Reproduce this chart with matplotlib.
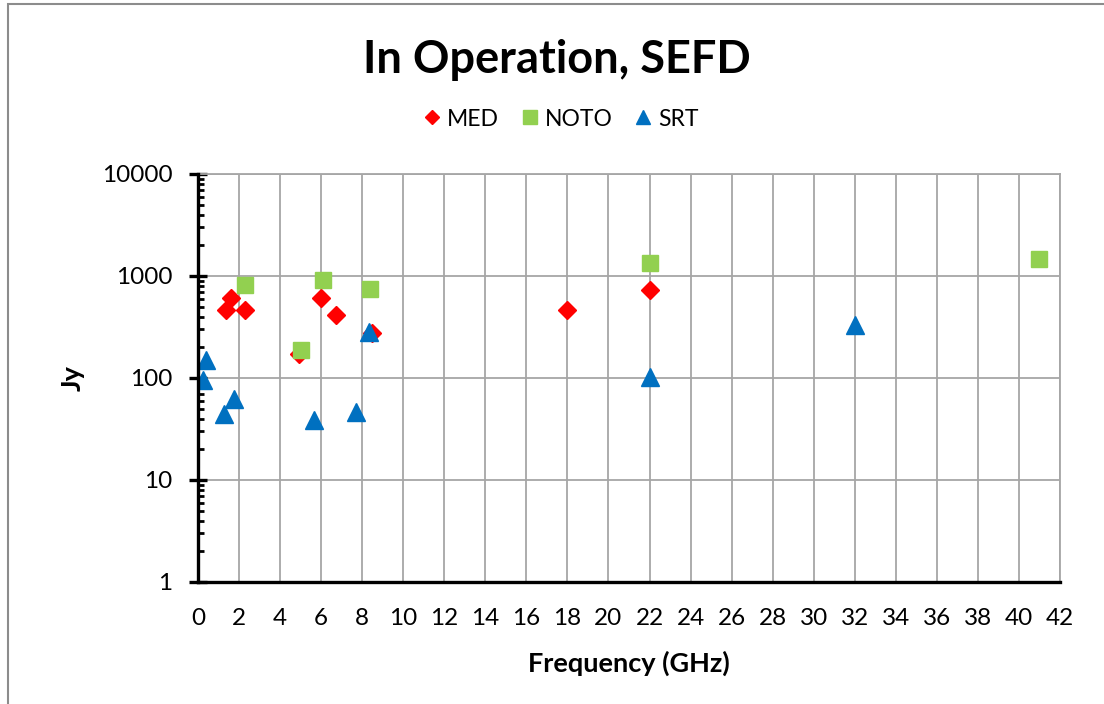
import matplotlib
matplotlib.use("Agg")
import matplotlib.pyplot as plt
from matplotlib.patches import Rectangle
from matplotlib.ticker import FixedLocator, LogLocator, NullFormatter

plt.rcParams['font.family'] = ['Lato', 'DejaVu Sans']

# Data (frequency in GHz, SEFD in Jy)
med_freq = [1.35, 1.6, 2.3, 4.9, 6.0, 6.7, 8.5, 18.0, 22.0]
med_sefd = [460, 610, 460, 170, 610, 410, 275, 460, 730]

noto_freq = [2.3, 5.0, 6.1, 8.4, 22.0, 41.0]
noto_sefd = [820, 190, 910, 740, 1350, 1470]

srt_freq = [0.23, 0.39, 1.27, 1.75, 5.67, 7.7, 8.35, 22.0, 32.0]
srt_sefd = [95, 150, 44, 62, 39, 46, 280, 103, 330]

x_ticks = list(range(0, 43, 2))
y_ticks = [1, 10, 100, 1000, 10000]

W, H = 1104, 704
fig = plt.figure(figsize=(W / 100, H / 100), dpi=100)
ax = fig.add_axes([198 / W, 1 - 582 / H, (1060 - 198) / W, (582 - 174) / H])

# chart frame (top/left edges visible)
fig.patches.append(Rectangle((8 / W, -0.1), 1.2, 1 - 4 / H + 0.1,
                             transform=fig.transFigure, fill=False,
                             edgecolor='#8c8c8c', linewidth=1.5))

ax.plot(med_freq, med_sefd, linestyle='none', marker='D', ms=9.5,
        color='#ff0000', label='MED', zorder=3)
ax.plot(noto_freq, noto_sefd, linestyle='none', marker='s', ms=12,
        color='#92d050', label='NOTO', zorder=4)
ax.plot(srt_freq, srt_sefd, linestyle='none', marker='^', ms=12.5,
        color='#0070c0', label='SRT', zorder=5)

ax.set_yscale('log')
ax.set_xlim(0, 42)
ax.set_ylim(1, 10000)
ax.xaxis.set_major_locator(FixedLocator(x_ticks))
ax.yaxis.set_major_locator(FixedLocator(y_ticks))
ax.set_yticklabels([str(v) for v in y_ticks])
ax.yaxis.set_minor_locator(LogLocator(base=10, subs=range(2, 10)))
ax.yaxis.set_minor_formatter(NullFormatter())

ax.grid(True, which='major', color='#a6a6a6', linewidth=1.3)
ax.set_axisbelow(True)

for side in ['top', 'right']:
    ax.spines[side].set_color('#a6a6a6')
    ax.spines[side].set_linewidth(1.3)
for side in ['left', 'bottom']:
    ax.spines[side].set_color('black')
    ax.spines[side].set_linewidth(2.4)
    ax.spines[side].set_zorder(6)

ax.tick_params(axis='x', length=0, pad=19, labelsize=17.5, colors='black')
ax.tick_params(axis='y', which='major', direction='inout', length=13,
               width=2.4, pad=12, labelsize=17.5)
ax.tick_params(axis='y', which='minor', direction='in', length=4, width=2)

ax.set_xlabel('Frequency (GHz)', fontsize=19.5, fontweight='bold', labelpad=15)
ax.set_ylabel('Jy', fontsize=19.5, fontweight='bold', labelpad=12)

fig.text(557 / W, 1 - 60 / H, 'In Operation, SEFD', ha='center', va='center',
         fontsize=32.5, fontweight='bold')

handles, labels = ax.get_legend_handles_labels()
fig.legend(handles, labels, loc='center', bbox_to_anchor=(559 / W, 1 - 119 / H),
           ncol=3, frameon=False, fontsize=16.5, markerscale=0.8,
           handletextpad=0.1, columnspacing=0.8, handlelength=1.1)

fig.savefig('out.png', dpi=100)
